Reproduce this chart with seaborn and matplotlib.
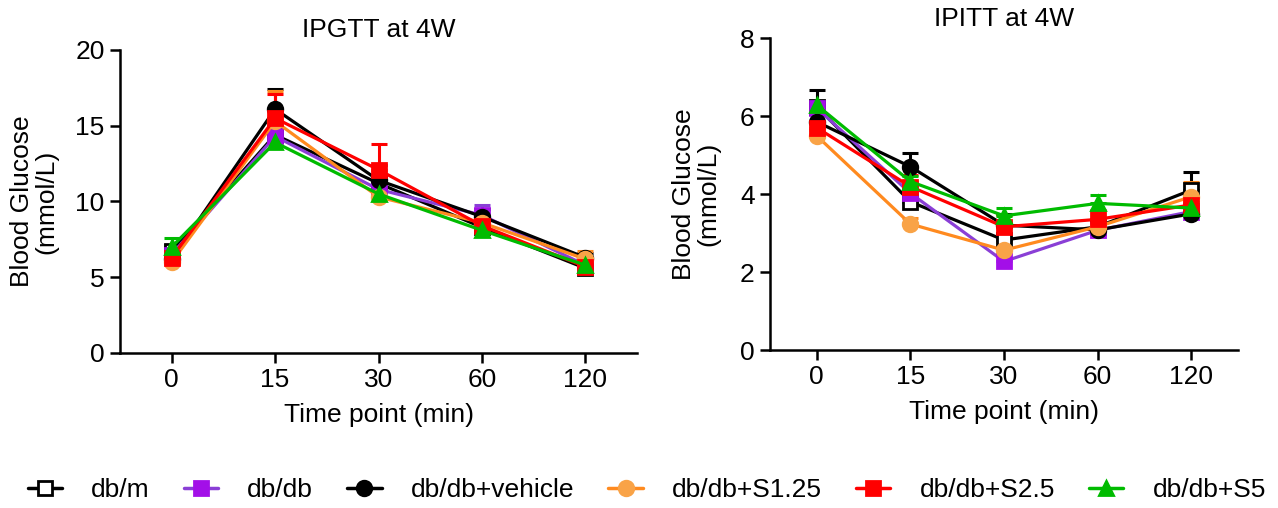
import seaborn as sns
import pandas as pd
import matplotlib.pyplot as plt
from matplotlib.lines import Line2D

# time points (categorical x axis)
time_points = ['0', '15', '30', '60', '120']

groups = ['db/m', 'db/db', 'db/db+vehicle', 'db/db+S1.25', 'db/db+S2.5', 'db/db+S5']

# IPGTT means and upper error (mmol/L)
ipgtt_mean = {
    'db/m':          [6.7, 14.4, 11.2, 8.3, 5.6],
    'db/db':         [6.5, 14.3, 10.8, 9.1, 5.8],
    'db/db+vehicle': [6.2, 16.1, 11.4, 9.0, 6.3],
    'db/db+S1.25':   [6.0, 15.3, 10.3, 8.6, 6.2],
    'db/db+S2.5':    [6.3, 15.5, 12.1, 8.4, 5.7],
    'db/db+S5':      [7.0, 13.9, 10.5, 8.1, 5.8],
}
ipgtt_err = {
    'db/m':          [0.4, 0.6, 0.5, 0.4, 0.3],
    'db/db':         [0.5, 0.7, 0.5, 0.7, 0.4],
    'db/db+vehicle': [0.5, 1.3, 1.0, 0.5, 0.3],
    'db/db+S1.25':   [0.3, 2.0, 0.4, 0.4, 0.5],
    'db/db+S2.5':    [0.4, 1.6, 1.7, 0.4, 0.3],
    'db/db+S5':      [0.6, 0.8, 0.4, 0.3, 0.3],
}

# IPITT means and upper error (mmol/L)
ipitt_mean = {
    'db/m':          [6.24, 3.80, 2.82, 3.16, 4.10],
    'db/db':         [6.20, 4.02, 2.27, 3.07, 3.55],
    'db/db+vehicle': [5.85, 4.70, 3.20, 3.08, 3.49],
    'db/db+S1.25':   [5.49, 3.23, 2.56, 3.16, 3.93],
    'db/db+S2.5':    [5.70, 4.19, 3.16, 3.35, 3.72],
    'db/db+S5':      [6.28, 4.32, 3.44, 3.76, 3.64],
}
ipitt_err = {
    'db/m':          [0.43, 0.15, 0.15, 0.15, 0.47],
    'db/db':         [0.10, 0.20, 0.30, 0.15, 0.15],
    'db/db+vehicle': [0.20, 0.35, 0.30, 0.25, 0.25],
    'db/db+S1.25':   [0.15, 0.15, 0.20, 0.15, 0.37],
    'db/db+S2.5':    [0.15, 0.30, 0.30, 0.25, 0.20],
    'db/db+S5':      [0.10, 0.15, 0.20, 0.21, 0.15],
}

line_colors = {'db/m': 'black', 'db/db': '#8A3FD6', 'db/db+vehicle': 'black',
               'db/db+S1.25': '#FF8A1F', 'db/db+S2.5': '#FF0000', 'db/db+S5': '#00BB00'}
marker_colors = {'db/m': 'white', 'db/db': '#A30FE8', 'db/db+vehicle': 'black',
                 'db/db+S1.25': '#F9A347', 'db/db+S2.5': '#FF0000', 'db/db+S5': '#00BB00'}
edge_colors = {'db/m': 'black', 'db/db': '#A30FE8', 'db/db+vehicle': 'black',
               'db/db+S1.25': '#F9A347', 'db/db+S2.5': '#FF0000', 'db/db+S5': '#00BB00'}
markers = {'db/m': 's', 'db/db': 's', 'db/db+vehicle': 'o',
           'db/db+S1.25': 'o', 'db/db+S2.5': 's', 'db/db+S5': '^'}

sns.set_style('white')
plt.rcParams['font.family'] = ['Liberation Sans', 'DejaVu Sans']
plt.rcParams['text.color'] = 'black'
plt.rcParams['axes.labelcolor'] = 'black'
plt.rcParams['xtick.color'] = 'black'
plt.rcParams['ytick.color'] = 'black'

label_size = 19


def draw_panel(ax, means, errs, title, ylim, yticks, ylabelpad):
    x = list(range(len(time_points)))
    for g in groups:
        df = pd.DataFrame({'x': x, 'y': means[g]})
        ax.errorbar(x, means[g], yerr=[[0] * len(x), errs[g]], fmt='none',
                    ecolor=line_colors[g], elinewidth=2.2, capsize=6, capthick=2.2, zorder=2)
        sns.lineplot(data=df, x='x', y='y', ax=ax, color=line_colors[g], linewidth=2.3,
                     marker=markers[g], markersize=10.5, markerfacecolor=marker_colors[g],
                     markeredgecolor=edge_colors[g], markeredgewidth=2, zorder=3)
    ax.set_xticks(x)
    ax.set_xticklabels(time_points)
    ax.set_xlim(-0.5, 4.5)
    ax.set_ylim(*ylim)
    ax.set_yticks(yticks)
    ax.set_title(title, fontsize=label_size, pad=9)
    ax.set_xlabel('Time point (min)', fontsize=label_size, labelpad=8)
    ax.set_ylabel('Blood Glucose\n(mmol/L)', fontsize=label_size, labelpad=ylabelpad, linespacing=1.05)
    ax.tick_params(axis='both', labelsize=19, length=7, width=1.8, direction='out',
                   bottom=True, left=True, pad=4)
    for side in ['top', 'right']:
        ax.spines[side].set_visible(False)
    for side in ['left', 'bottom']:
        ax.spines[side].set_linewidth(1.8)
        ax.spines[side].set_color('black')


fig = plt.figure(figsize=(12.78, 5.08), dpi=100)
ax1 = fig.add_axes([120 / 1278, 1 - 353 / 508, 517 / 1278, 303 / 508])
ax2 = fig.add_axes([770 / 1278, 1 - 350 / 508, 468 / 1278, 312 / 508])

draw_panel(ax1, ipgtt_mean, ipgtt_err, 'IPGTT at 4W', (0, 20), [0, 5, 10, 15, 20], 12)
draw_panel(ax2, ipitt_mean, ipitt_err, 'IPITT at 4W', (0, 8), [0, 2, 4, 6, 8], 14)

handles = [Line2D([0], [0], color=line_colors[g], linewidth=2.5, marker=markers[g], markersize=10.5,
                  markerfacecolor=marker_colors[g], markeredgecolor=edge_colors[g],
                  markeredgewidth=2) for g in groups]
fig.legend(handles, groups, loc='center', bbox_to_anchor=(0.506, 1 - 490 / 508), ncol=6,
           frameon=False, fontsize=label_size, handlelength=1.3, columnspacing=1.3,
           handletextpad=1.1)

fig.savefig('out.png', dpi=100)
